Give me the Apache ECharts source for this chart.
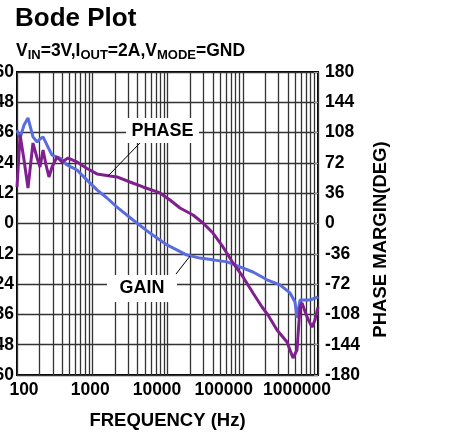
<!DOCTYPE html>
<html>
<head>
<meta charset="utf-8">
<script src="https://cdn.jsdelivr.net/npm/echarts@6/dist/echarts.min.js"></script>
<style>
html, body { margin: 0; padding: 0; background: #fff; }
#chartBox { width: 474px; height: 435px; }
</style>
</head>
<body>
<div id="chartBox"></div>
<script>
// gain curve (dB, left axis)
var gainFreq = [100, 110, 124, 140, 163, 185, 202, 222, 250, 292,
    373, 462, 627, 852, 1156, 1570, 2133, 3479, 5853, 9849,
    18160, 27040, 40240, 61770, 91930, 136900, 210100, 312600, 424600, 494800,
    526000, 576600, 632000, 783100, 1000000];
var gainDb = [37.0, 33.9, 39.0, 41.8, 34.3, 32.3, 33.5, 34.3, 31.1, 27.1,
    25.9, 23.2, 21.2, 17.2, 13.3, 10.1, 6.5, 1.4, -3.8, -8.5,
    -12.5, -13.7, -14.4, -15.2, -17.2, -19.2, -22.3, -24.3, -27.5, -31.1,
    -37.4, -30.3, -30.3, -30.3, -29.1];

// phase curve (deg, right axis)
var phaseFreq = [100, 110, 124, 140, 163, 185, 202, 222, 243, 266,
    292, 340, 396, 476, 627, 852, 1156, 1721, 2133, 3174,
    4724, 7951, 10790, 14660, 21830, 29640, 40240, 54640, 74210, 100800,
    136900, 180300, 216500, 285200, 387300, 465400, 526000, 576600, 613000, 714400,
    832500, 912600, 1000000];
var phaseDeg = [43.4, 105.2, 75.5, 42.2, 95.6, 77.8, 67.1, 87.3, 69.5, 55.3,
    67.1, 79.0, 73.1, 77.8, 73.1, 65.3, 58.9, 56.4, 55.3, 49.3,
    43.4, 36.3, 27.9, 18.4, 10.1, 0.6, -11.3, -27.9, -46.9, -63.5,
    -82.5, -99.2, -108.7, -126.5, -140.8, -159.8, -150.3, -99.2, -94.4, -111.1,
    -123.1, -114.6, -99.2];

var freqLabels = ['100', '1000', '10000', '100000', '1000000'];

var font = 'Liberation Sans, Arial, sans-serif';
var myChart = echarts.init(document.getElementById('chartBox'));

function pairs(xs, ys) {
    var out = [];
    for (var i = 0; i < xs.length; i++) {
        out.push([xs[i], ys[i]]);
    }
    return out;
}

// shift each frequency label a bit, like the original print
var labelRich = {
    l0: {padding: [0, 0, 0, 14]},
    l1: {padding: [0, 4, 0, 0]},
    l2: {padding: [0, 21, 0, 0]},
    l3: {padding: [0, 38, 0, 0]},
    l4: {padding: [0, 42, 0, 0]}
};
for (var k in labelRich) {
    labelRich[k].fontSize = 17.5;
    labelRich[k].fontWeight = 'bold';
    labelRich[k].fontFamily = font;
    labelRich[k].color = '#000';
}

var gridLine = {color: '#333', width: 1.3};

var option = {
    animation: false,
    backgroundColor: '#fff',
    title: [{
        text: 'Bode Plot',
        left: 15,
        top: 6,
        padding: 0,
        textStyle: {fontSize: 26, fontWeight: 'bold', color: '#000', fontFamily: font}
    }, {
        text: 'V{s|IN}=3V,I{s|OUT}=2A,V{s|MODE}=GND',
        left: 16,
        top: 40,
        padding: 0,
        textStyle: {
            fontSize: 17.5, fontWeight: 'bold', color: '#000', fontFamily: font,
            rich: {
                s: {fontSize: 13, fontWeight: 'bold', color: '#000', fontFamily: font, padding: [9, 0, 0, 0]}
            }
        }
    }],
    grid: {
        left: 17, right: 156, top: 72, bottom: 60,
        containLabel: false,
        outerBoundsMode: 'none',
        show: true, borderColor: '#000', borderWidth: 2
    },
    xAxis: {
        type: 'log',
        logBase: 10,
        min: 100,
        max: 1000000,
        axisLine: {show: false},
        axisTick: {show: false},
        minorTick: {show: false, splitNumber: 9},
        splitLine: {show: true, lineStyle: gridLine},
        minorSplitLine: {show: true, lineStyle: gridLine},
        axisLabel: {
            interval: 0,
            margin: 6,
            formatter: function (v) {
                var i = Math.round(Math.log(v) / Math.LN10) - 2;
                return '{l' + i + '|' + freqLabels[i] + '}';
            },
            rich: labelRich
        },
        name: 'FREQUENCY (Hz)',
        nameLocation: 'middle',
        nameGap: 36,
        nameTextStyle: {fontSize: 18.5, fontWeight: 'bold', color: '#000', fontFamily: font}
    },
    yAxis: [{
        type: 'value',
        position: 'left',
        min: -60,
        max: 60,
        interval: 12,
        axisLine: {show: false},
        axisTick: {show: false},
        splitLine: {show: true, lineStyle: gridLine},
        axisLabel: {margin: 3, fontSize: 17.5, fontWeight: 'bold', color: '#000', fontFamily: font}
    }, {
        type: 'value',
        position: 'right',
        min: -180,
        max: 180,
        interval: 36,
        axisLine: {show: false},
        axisTick: {show: true, inside: true, length: 4, lineStyle: {color: '#999'}},
        splitLine: {show: false},
        axisLabel: {margin: 7, fontSize: 17.5, fontWeight: 'bold', color: '#000', fontFamily: font},
        name: 'PHASE MARGIN(DEG)',
        nameLocation: 'middle',
        nameRotate: 90,
        nameGap: 48,
        nameTextStyle: {fontSize: 18.5, fontWeight: 'bold', color: '#000', fontFamily: font, padding: [0, 32, 0, 0]}
    }],
    series: [{
        name: 'GAIN',
        type: 'line',
        yAxisIndex: 0,
        symbol: 'none',
        data: pairs(gainFreq, gainDb),
        lineStyle: {color: '#5a6de0', width: 3},
        itemStyle: {color: '#5a6de0'},
        z: 3,
        markPoint: {
            silent: true,
            symbol: 'rect',
            symbolSize: [73, 25],
            itemStyle: {color: '#fff', borderWidth: 0},
            label: {
                show: true, position: 'inside', formatter: '{b}',
                fontSize: 18, fontWeight: 'bold', color: '#000', fontFamily: font
            },
            data: [
                {name: 'PHASE', coord: [8583, 36.8]},
                {name: 'GAIN', coord: [4582, -25.7], symbolSize: [70, 27]}
            ]
        },
        markLine: {
            silent: true,
            symbol: ['none', 'none'],
            label: {show: false},
            lineStyle: {color: '#000', width: 1, type: 'solid'},
            data: [
                [{coord: [4446, 32.3]}, {coord: [1619, 18.8]}],
                [{coord: [12970, -20.0]}, {coord: [19910, -12.9]}]
            ]
        }
    }, {
        name: 'PHASE',
        type: 'line',
        yAxisIndex: 1,
        symbol: 'none',
        data: pairs(phaseFreq, phaseDeg),
        lineStyle: {color: '#80208f', width: 3},
        itemStyle: {color: '#80208f'},
        z: 3
    }]
};
myChart.setOption(option);
</script>
</body>
</html>
